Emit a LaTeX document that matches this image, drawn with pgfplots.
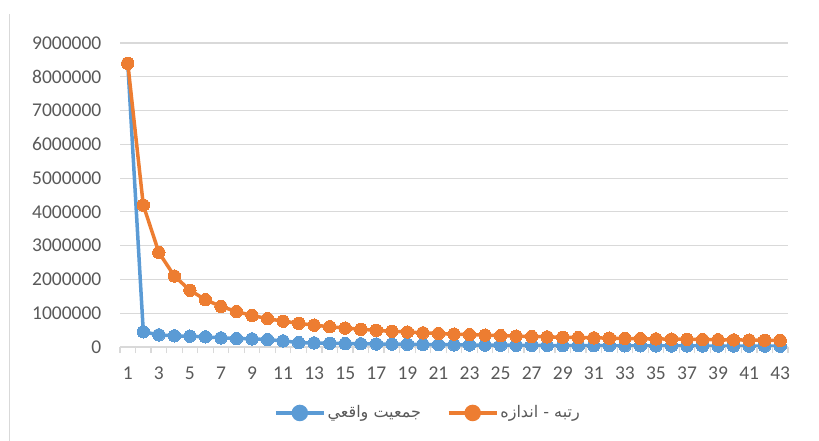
\documentclass[border=0pt]{standalone}
\usepackage{fontspec}
\setmainfont{Carlito}
\newfontfamily\arabicfont[Script=Arabic]{DejaVu Sans}
\TeXXeTstate=1
\usepackage{pgfplots}
\usepackage{pgfplotstable}
\pgfplotsset{compat=1.18}
\definecolor{sblue}{HTML}{5B9BD5}
\definecolor{sorange}{HTML}{ED7D31}
\definecolor{txtgray}{HTML}{595959}
\definecolor{gridgray}{HTML}{D9D9D9}
\pgfplotstableread{
r actual ranksize
1 8400000 8400000
2 450000 4200000
3 360000 2800000
4 330000 2100000
5 320000 1680000
6 300000 1400000
7 270000 1200000
8 250000 1050000
9 240000 933333
10 220000 840000
11 180000 763636
12 130000 700000
13 120000 646154
14 110000 600000
15 100000 560000
16 95000 525000
17 90000 494118
18 85000 466667
19 80000 442105
20 75000 420000
21 70000 400000
22 65000 381818
23 60000 365217
24 57000 350000
25 54000 336000
26 51000 323077
27 48000 311111
28 45000 300000
29 43000 289655
30 41000 280000
31 39000 270968
32 37000 262500
33 35000 254545
34 34000 247059
35 33000 240000
36 32000 233333
37 31000 227027
38 30000 221053
39 29000 215385
40 28000 210000
41 27000 204878
42 26000 200000
43 25000 195349
}\datatable
\begin{document}
\fontsize{19.5bp}{23bp}\selectfont
\begin{tikzpicture}
\useasboundingbox (0,0) rectangle (819bp,441bp);
\draw[gridgray, line width=1.2bp] (9.5bp,0) -- (9.5bp,427bp);
\begin{axis}[
  at={(120bp,94bp)}, anchor=south west,
  scale only axis, width=668bp, height=304bp,
  xmin=0.5, xmax=43.5, ymin=0, ymax=9000000,
  xtick={1,3,...,43},
  minor xtick={0.5,1.5,...,43.5},
  ytick={0,1000000,...,9000000},
  scaled y ticks=false,
  /pgf/number format/assume math mode=true,
  yticklabel={\pgfmathprintnumber[fixed,precision=0,1000 sep={}]{\tick}},
  axis x line*=bottom, axis y line*=left,
  y axis line style={draw=none},
  x axis line style={gridgray, line width=1.5bp, -},
  major tick length=0pt, minor tick length=6bp,
  tick align=outside, xtick pos=lower, ytick pos=left,
  minor tick style={gridgray, line width=1.2bp},
  ymajorgrids, grid style={gridgray, line width=1.2bp},
  ticklabel style={font=\fontsize{19.5bp}{23bp}\selectfont, text=txtgray},
  yticklabel style={anchor=east, inner sep=0pt, xshift=-18.5bp},
  xticklabel style={anchor=north, inner sep=0pt, yshift=-19.5bp},
  legend style={at={(0.461,-0.217)}, anchor=center, draw=none, fill=none,
    legend columns=2, font=\arabicfont\fontsize{16bp}{19bp}\selectfont, text=txtgray,
    /tikz/every even column/.append style={column sep=24bp}},
  legend image code/.code={
    \draw[#1, mark=none, line width=3.5bp] (0bp,0bp) -- (48bp,0bp);
    \fill[#1] (24bp,0bp) circle (6.5bp);
  },
]
\addplot[sblue, line width=3.5bp, mark=*, mark size=6.2bp, mark options={fill=sblue, draw=sblue, line width=0pt}] table[x=r, y=actual] {\datatable};
\addlegendentry{\beginR جمعيت واقعي\endR}
\addplot[sorange, line width=3.5bp, mark=*, mark size=6.2bp, mark options={fill=sorange, draw=sorange, line width=0pt}] table[x=r, y=ranksize] {\datatable};
\addlegendentry{\beginR رتبه - اندازه\endR}
\end{axis}
\end{tikzpicture}
\end{document}
